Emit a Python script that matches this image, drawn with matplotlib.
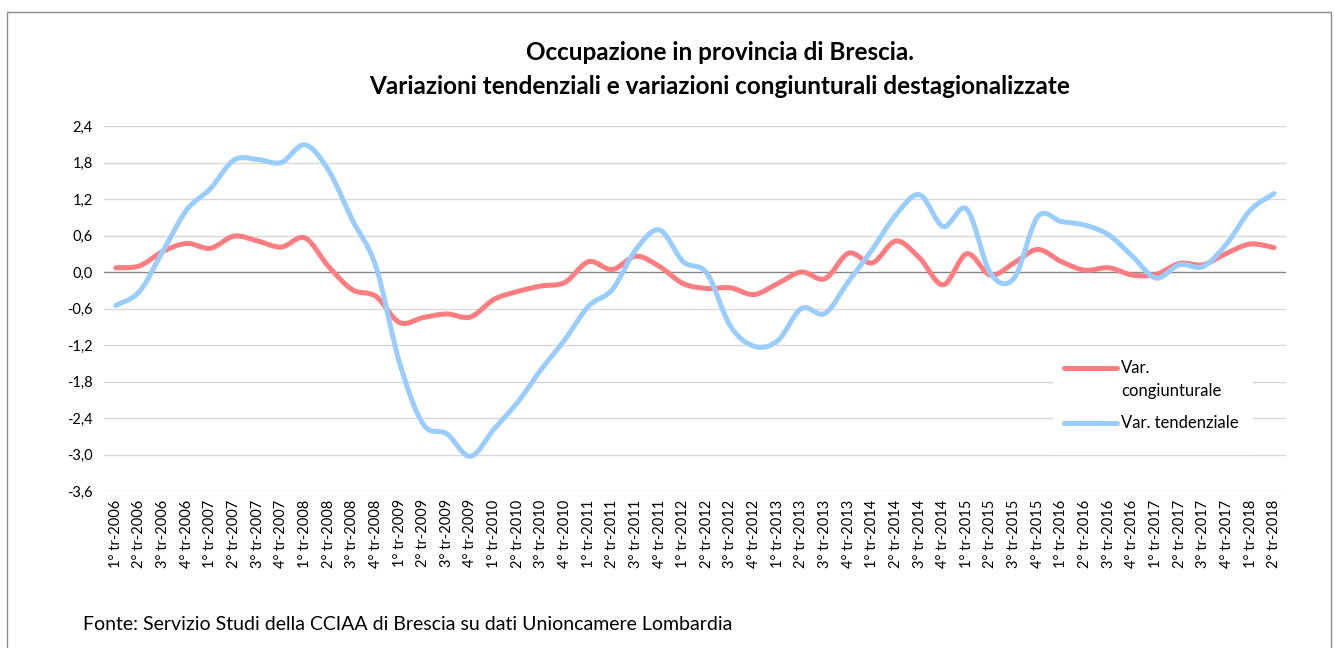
import matplotlib
matplotlib.use("Agg")
import matplotlib.pyplot as plt
from matplotlib.path import Path
from matplotlib.patches import PathPatch, Rectangle
from matplotlib.lines import Line2D
import numpy as np

plt.rcParams['font.family'] = ['Lato', 'DejaVu Sans']

years = list(range(2006, 2019))
categories = [f"{q}° tr-{y}" for y in years for q in (1, 2, 3, 4)][:50]

var_congiunturale = [0.07, 0.10, 0.34, 0.47, 0.39, 0.59, 0.51, 0.41, 0.56, 0.09,
                     -0.29, -0.40, -0.83, -0.75, -0.69, -0.74, -0.45, -0.32, -0.23, -0.17,
                     0.17, 0.04, 0.26, 0.09, -0.19, -0.27, -0.26, -0.37, -0.19, 0.0,
                     -0.11, 0.31, 0.15, 0.51, 0.23, -0.21, 0.30, -0.05, 0.15, 0.37,
                     0.17, 0.03, 0.07, -0.05, -0.04, 0.14, 0.12, 0.31, 0.46, 0.40]
var_tendenziale = [-0.55, -0.32, 0.35, 1.02, 1.37, 1.84, 1.85, 1.80, 2.09, 1.67,
                   0.86, 0.09, -1.49, -2.50, -2.66, -3.03, -2.58, -2.14, -1.60, -1.11,
                   -0.56, -0.29, 0.37, 0.69, 0.17, -0.02, -0.89, -1.22, -1.13, -0.60,
                   -0.68, -0.15, 0.37, 0.94, 1.27, 0.75, 1.03, -0.02, -0.10, 0.91,
                   0.83, 0.77, 0.61, 0.26, -0.10, 0.12, 0.09, 0.47, 1.02, 1.29]

yticks = [2.4, 1.8, 1.2, 0.6, 0.0, -0.6, -1.2, -1.8, -2.4, -3.0, -3.6]
series_labels = ["Var. congiunturale", "Var. tendenziale"]

red = '#FF7C80'
blue = '#99CCFF'

W, H = 1339, 648
fig = plt.figure(figsize=(W / 100, H / 100), dpi=100)


def fx(px):
    return px / W


def fy(py):
    return 1 - py / H


# outer frame
fig.patches.append(Rectangle((fx(7), -0.05), fx(1331 - 7), 1.05 - 12 / H,
                             transform=fig.transFigure, fill=False,
                             edgecolor='#8c8c8c', linewidth=1.0))

ax = fig.add_axes([fx(104), fy(491), fx(1286 - 104), (491 - 126) / H])
ax.set_xlim(-0.5, len(categories) - 0.5)
ax.set_ylim(-3.6, 2.4)
for s in ax.spines.values():
    s.set_visible(False)
for t in yticks:
    if t == 0:
        ax.axhline(t, color='#868686', linewidth=1.0, zorder=1)
    else:
        ax.axhline(t, color='#d9d9d9', linewidth=1.0, zorder=0)


def smooth_path(x, y):
    pts = np.column_stack([x, y]).astype(float)
    n = len(pts)
    verts = [pts[0]]
    codes = [Path.MOVETO]
    for i in range(n - 1):
        p0 = pts[i - 1] if i > 0 else pts[i]
        p1 = pts[i]
        p2 = pts[i + 1]
        p3 = pts[i + 2] if i + 2 < n else pts[i + 1]
        c1 = p1 + (p2 - p0) / 6.0
        c2 = p2 - (p3 - p1) / 6.0
        verts += [c1, c2, p2]
        codes += [Path.CURVE4] * 3
    return Path(verts, codes)


xs = np.arange(len(categories))
for vals, col, lab in ((var_congiunturale, red, series_labels[0]),
                       (var_tendenziale, blue, series_labels[1])):
    patch = PathPatch(smooth_path(xs, vals), facecolor='none', edgecolor=col,
                      linewidth=3.6, capstyle='round', joinstyle='round', zorder=3,
                      label=lab)
    ax.add_patch(patch)

ax.set_yticks(yticks)
ax.set_yticklabels([f"{v:.1f}".replace('.', ',') for v in yticks], fontsize=10.5)
ax.set_xticks(xs)
ax.set_xticklabels(categories, rotation=90, fontsize=10.5)
ax.tick_params(axis='both', length=0, pad=8, colors='black')
ax.tick_params(axis='x', pad=6)

# legend (Excel-style: wrapped first label, handle aligned with first line)
fig.patches.append(Rectangle((fx(1053), fy(455)), fx(1253 - 1053), (455 - 353) / H,
                             transform=fig.transFigure, facecolor='white',
                             edgecolor='none', zorder=4))
fig.lines.append(Line2D([fx(1064), fx(1117)], [fy(368), fy(368)], color=red,
                        linewidth=3.6, solid_capstyle='round',
                        transform=fig.transFigure, zorder=5))
fig.lines.append(Line2D([fx(1064), fx(1117)], [fy(423), fy(423)], color=blue,
                        linewidth=3.6, solid_capstyle='round',
                        transform=fig.transFigure, zorder=5))
fig.text(fx(1121), fy(368), "Var.", ha='left', va='center', fontsize=12, zorder=6)
fig.text(fx(1121), fy(391), "congiunturale", ha='left', va='center', fontsize=12, zorder=6)
fig.text(fx(1121), fy(423), series_labels[1], ha='left', va='center', fontsize=12, zorder=6)

fig.text(fx(720), fy(52), "Occupazione in provincia di Brescia.", ha='center',
         va='center', fontsize=17.5, fontweight='bold')
fig.text(fx(720), fy(86),
         "Variazioni tendenziali e variazioni congiunturali destagionalizzate",
         ha='center', va='center', fontsize=17.5, fontweight='bold')
fig.text(fx(83), fy(625),
         "Fonte: Servizio Studi della CCIAA di Brescia su dati Unioncamere Lombardia",
         ha='left', va='center', fontsize=14)

fig.savefig("out.png", dpi=100)
